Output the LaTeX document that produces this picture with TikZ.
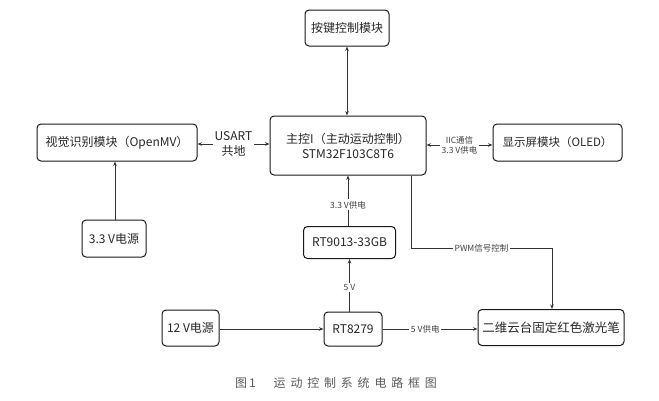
\documentclass[tikz,border=0pt]{standalone}
\usepackage{fontspec}
\setmainfont{Noto Sans CJK SC}
\usetikzlibrary{arrows.meta}
\tikzset{
  box/.style={draw=black!90, line width=1pt, rounded corners=4pt, align=center,
    text=black!85, font=\fontsize{12}{15}\selectfont, inner sep=0pt},
  conn/.style={draw=black!80, line width=0.7pt},
  arr/.style={conn, -{Stealth[length=4.5pt,width=3.5pt]}},
  darr/.style={conn, {Stealth[length=4.5pt,width=3.5pt]}-{Stealth[length=4.5pt,width=3.5pt]}},
  lbl/.style={fill=white, inner sep=1.5pt, text=black!75, font=\fontsize{8.5}{10}\selectfont, align=center},
  biglbl/.style={fill=white, inner sep=1.5pt, text=black!85, font=\fontsize{12}{15}\selectfont, align=center},
}
\begin{document}
\begin{tikzpicture}[x=1pt,y=-1pt]
\useasboundingbox (0,0) rectangle (659,400);
% nodes
\node[box, minimum width=84pt, minimum height=36pt] (btn) at (347,28) {按键控制模块};
\node[box, minimum width=156pt, minimum height=59pt] (main) at (348,145.5) {主控I（主动运动控制）\\STM32F103C8T6};
\node[box, minimum width=160pt, minimum height=37pt] (vis) at (117,142.5) {视觉识别模块（OpenMV）};
\node[box, minimum width=129pt, minimum height=37pt, font=\fontsize{11.5}{13}\selectfont] (oled) at (557.5,142.5) {显示屏模块（OLED）};
\node[box, minimum width=64pt, minimum height=37pt] (p33) at (114,238.5) {3.3 V电源};
\node[box, minimum width=92pt, minimum height=32pt] (rt9013) at (349.5,242.5) {RT9013-33GB};
\node[box, minimum width=57pt, minimum height=36pt] (p12) at (190.5,328) {12 V电源};
\node[box, minimum width=58pt, minimum height=34pt] (rt8279) at (353,329) {RT8279};
\node[box, minimum width=146pt, minimum height=36pt, font=\fontsize{12.5}{15}\selectfont] (laser) at (551,327.5) {二维云台固定红色激光笔};
% connectors
\draw[darr] (btn.south) -- (btn.south |- main.north);
\draw[darr] (vis.east |- 0,144) -- node[biglbl]{USART\\共地} (main.west |- 0,144);
\draw[darr] (main.east |- 0,145) -- node[lbl]{IIC通信\\3.3 V供电} (oled.west |- 0,145);
\draw[arr] (p33.north -| 115,0) -- (vis.south -| 115,0);
\draw[arr] (rt9013.north -| main.south) -- node[lbl, pos=0.42]{3.3 V供电} (main.south);
\draw[arr] (rt9013.south |- rt8279.north) -- node[lbl, pos=0.46]{5 V} (rt9013.south);
\draw[arr] ([xshift=63pt]main.south) -- ++(0,73) -| node[lbl, pos=0.25]{PWM信号控制} ([xshift=1pt]laser.north);
\draw[arr] (p12.east |- rt8279.west) -- (rt8279.west);
\draw[arr] (rt8279.east) -- node[lbl, pos=0.45]{5 V供电} (laser.west |- rt8279.east);
% caption
\node[text=black!65, font=\fontsize{12}{14}\selectfont\addfontfeature{LetterSpace=40}] (cap) at (336,383) {图\,1\hspace{18pt}运动控制系统电路框图};
\end{tikzpicture}
\end{document}
